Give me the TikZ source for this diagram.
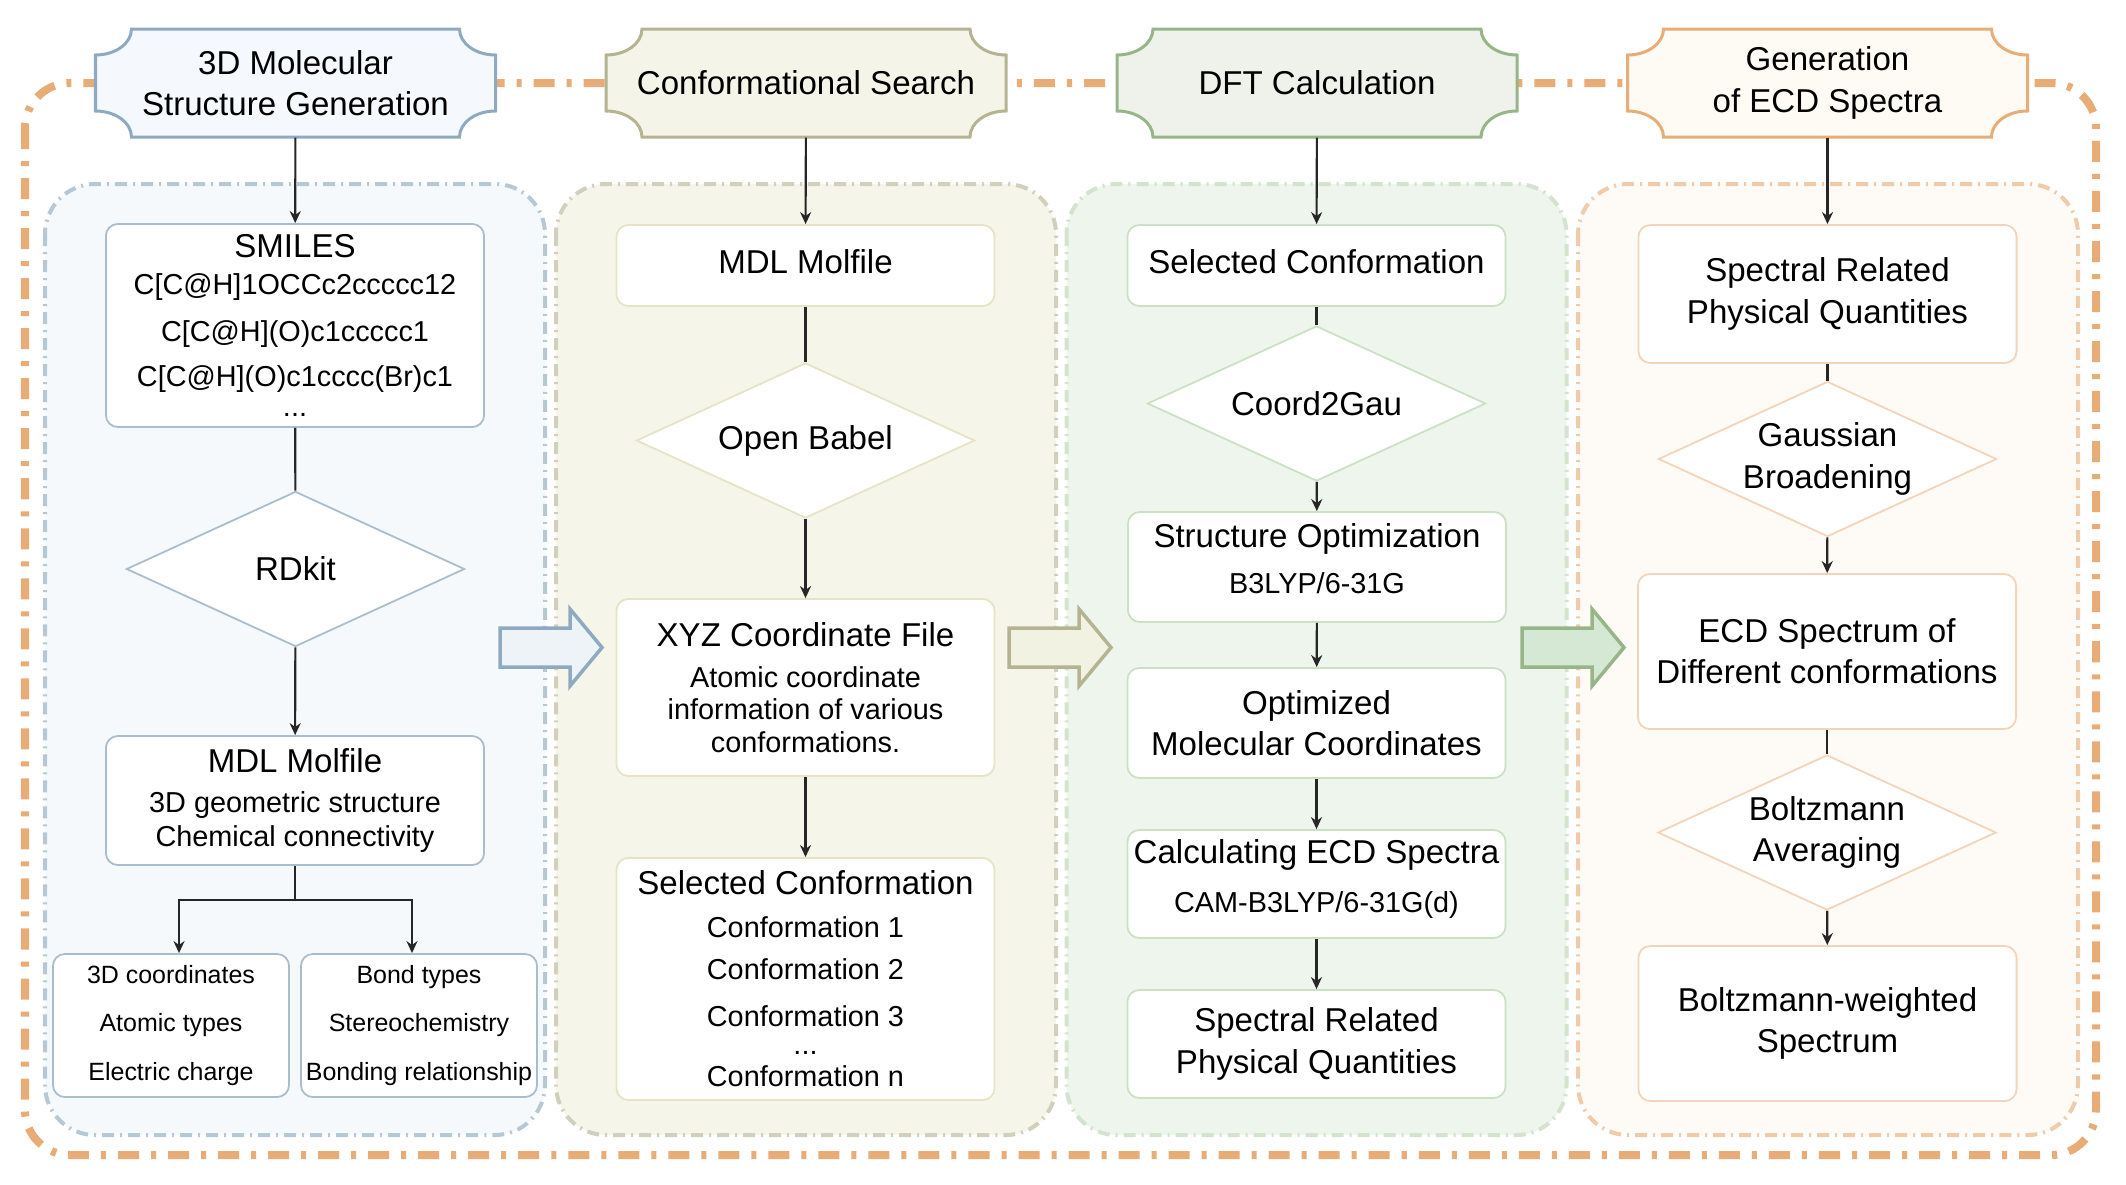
\documentclass[tikz,border=0pt]{standalone}
\usepackage{fontspec}
\setmainfont{Liberation Sans}
\usetikzlibrary{shapes.geometric,arrows.meta}

\definecolor{lineblue}{HTML}{8FAAC0}
\definecolor{headblue}{HTML}{F5F8FC}
\definecolor{fillblue}{HTML}{F5F9FC}
\definecolor{dashblue}{HTML}{B7C8D5}
\definecolor{edgeblue}{HTML}{A9BDCC}
\definecolor{arrowblue}{HTML}{EEF3F8}
\definecolor{lineolive}{HTML}{B5B391}
\definecolor{headolive}{HTML}{F4F4E8}
\definecolor{fillolive}{HTML}{F5F5EA}
\definecolor{dasholive}{HTML}{D1D0BC}
\definecolor{edgeolive}{HTML}{E6E4C4}
\definecolor{arrowolive}{HTML}{F2F2E3}
\definecolor{linegreen}{HTML}{97B589}
\definecolor{headgreen}{HTML}{EEF2EA}
\definecolor{fillgreen}{HTML}{EEF5EC}
\definecolor{dashgreen}{HTML}{D3E3CE}
\definecolor{edgegreen}{HTML}{CBE0C4}
\definecolor{arrowgreen}{HTML}{D5E8D4}
\definecolor{lineorange}{HTML}{E8AD77}
\definecolor{headorange}{HTML}{FEFBF4}
\definecolor{fillorange}{HTML}{FEFBF6}
\definecolor{dashorange}{HTML}{EFCBA9}
\definecolor{edgeorange}{HTML}{F3D4B9}

\newcommand{\headfont}{\fontsize{9.4}{11.7}\selectfont}
\newcommand{\bodyfont}{\fontsize{8.2}{9.3}\selectfont}
\newcommand{\notefont}{\fontsize{7.1}{13.7}\selectfont}

% banner with cut-in corners: name, x, y, colour, text
\newcommand{\stagebanner}[5]{%
  \begin{scope}[shift={(#2,#3)}]
    \draw[line width=0.03cm, draw=line#4, fill=head#4] (-164,-54) -- (164,-54)
      .. controls (164,-39.6) and (180.1,-28) .. (200,-28) -- (200,28)
      .. controls (180.1,28) and (164,39.6) .. (164,54) -- (-164,54)
      .. controls (-164,39.6) and (-180.1,28) .. (-200,28) -- (-200,-28)
      .. controls (-180.1,-28) and (-164,-39.6) .. (-164,-54) -- cycle;
  \end{scope}
  \node[bannertext] (#1) at (#2,#3) {#5};
}

\tikzset{
  bannertext/.style={minimum width=4cm, minimum height=1.08cm, inner sep=0pt, align=center, font=\headfont},
  card/.style={draw=#1, fill=white, rounded corners=0.12cm, line width=0.5pt, minimum width=3.78cm, inner sep=0pt, align=center, font=\headfont},
  decision/.style={diamond, draw=#1, fill=white, line width=0.5pt, minimum width=3.38cm, minimum height=1.55cm, aspect=2.17, inner sep=0pt, align=center, font=\headfont},
  link/.style={line width=0.6pt, draw=black!85},
  flow/.style={link, -{Stealth[length=0.12cm, width=0.11cm]}},
  outerframe/.style={draw=lineorange, line width=0.08cm, rounded corners=0.45cm, dash pattern=on 0.21cm off 0.12cm on 0.05cm off 0.12cm},
  panel/.style={line width=0.04cm, rounded corners=0.5cm, dash pattern=on 0.12cm off 0.06cm on 0.02cm off 0.06cm},
}

\begin{document}
\begin{tikzpicture}[x=0.01cm, y=-0.01cm]
  \useasboundingbox (0,0) rectangle (2126,1184);

  \draw[outerframe] (25,83) rectangle (2096,1155);
  \foreach \cx/\tone in {295/blue,806/olive,1316.5/green,1828/orange}{
    \draw[panel, draw=dash\tone, fill=fill\tone] (\cx-250,184) rectangle (\cx+250,1135);
  }

  \stagebanner{headA}{295.5}{83}{blue}{3D Molecular\\ Structure Generation}
  \stagebanner{headB}{806}{83}{olive}{Conformational Search}
  \stagebanner{headC}{1317}{83}{green}{DFT Calculation}
  \stagebanner{headD}{1827.5}{83}{orange}{Generation\\ of ECD Spectra}

  % hand-over arrows between stages
  \foreach \ax/\tone in {500/blue,1009/olive,1522/green}{
    \draw[line width=0.035cm, draw=line\tone, fill=arrow\tone] (\ax,628) -- (\ax+70,628) -- (\ax+70,609)
      -- (\ax+102,647.5) -- (\ax+70,686) -- (\ax+70,667) -- (\ax,667) -- cycle;
  }

  % structure generation
  \node[card=edgeblue, minimum height=2.03cm, font=\bodyfont] (smiles) at (295,325.5)
    {{\headfont SMILES}\\[1.2pt] C[C@H]1OCCc2ccccc12\\[4.1pt] C[C@H](O)c1ccccc1\\[3.5pt] C[C@H](O)c1cccc(Br)c1\\[-0.8pt] ...};
  \node[decision=edgeblue] (rdkit) at (295.5,569) {RDkit};
  \node[card=edgeblue, minimum height=1.29cm, font=\bodyfont] (molfileA) at (295,800.5)
    {{\headfont MDL Molfile}\\[1.9pt] 3D geometric structure\\[0.4pt] Chemical connectivity};
  \node[card=edgeblue, minimum width=2.36cm, minimum height=1.43cm, font=\notefont] (atoms) at (171,1025.5)
    {3D coordinates\\ Atomic types\\ Electric charge};
  \node[card=edgeblue, minimum width=2.36cm, minimum height=1.43cm, font=\notefont] (bonds) at (419,1025.5)
    {Bond types\\ Stereochemistry\\ Bonding relationship};
  \coordinate (fork) at (295,900);
  \draw[flow] (headA) -- (smiles);
  \draw[link] (smiles) -- (rdkit);
  \draw[flow] (rdkit) -- (molfileA);
  \draw[link] (molfileA) -- (fork);
  \draw[flow] (fork) -| ([xshift=0.08cm]atoms.north);
  \draw[flow] (fork) -| ([xshift=-0.07cm]bonds.north);

  % conformational search
  \node[card=edgeolive, minimum height=0.81cm, text depth=2pt] (molfileB) at (805.5,265.5) {MDL Molfile};
  \node[decision=edgeolive] (babel) at (805.5,440.5) {Open Babel};
  \node[card=edgeolive, minimum height=1.77cm, font=\bodyfont] (xyz) at (805.5,687.5)
    {{\headfont XYZ Coordinate File}\\[2.4pt] Atomic coordinate\\ information of various\\ conformations.};
  \node[card=edgeolive, minimum height=2.42cm, font=\bodyfont] (chosenB) at (805.5,979)
    {{\headfont Selected Conformation}\\[2.9pt] Conformation 1\\[2.7pt] Conformation 2\\[3.8pt] Conformation 3\\[-1.3pt] ...\\ Conformation n};
  \draw[flow] (headB) -- (molfileB);
  \draw[link] (molfileB) -- (babel);
  \draw[flow] (babel) -- (xyz);
  \draw[flow] (xyz) -- (chosenB);

  % DFT calculation
  \node[card=edgegreen, minimum height=0.81cm, text depth=2pt] (chosenC) at (1316.5,265.5) {Selected Conformation};
  \node[decision=edgegreen] (coord) at (1316.5,403.5) {Coord2Gau};
  \node[card=edgegreen, minimum height=1.1cm, text depth=5pt] (optim) at (1317,567)
    {Structure Optimization\\[1.4pt] {\bodyfont B3LYP/6-31G}};
  \node[card=edgegreen, minimum height=1.1cm] (coords) at (1316.5,723) {Optimized\\ Molecular Coordinates};
  \node[card=edgegreen, minimum height=1.08cm, text depth=4.5pt] (ecdcalc) at (1316.5,884)
    {Calculating ECD Spectra\\[2.4pt] {\bodyfont CAM-B3LYP/6-31G(d)}};
  \node[card=edgegreen, minimum height=1.08cm] (quantC) at (1316.5,1044) {Spectral Related\\ Physical Quantities};
  \draw[flow] (headC) -- (chosenC);
  \draw[link] (chosenC) -- (coord);
  \draw[flow] (coord) -- (optim);
  \draw[flow] (optim) -- (coords);
  \draw[flow] (coords) -- (ecdcalc);
  \draw[flow] (ecdcalc) -- (quantC);

  % ECD spectra
  \node[card=edgeorange, minimum height=1.38cm] (quantD) at (1827.5,294) {Spectral Related\\ Physical Quantities};
  \node[decision=edgeorange] (gauss) at (1827.5,459) {Gaussian\\ Broadening};
  \node[card=edgeorange, minimum height=1.55cm] (ecdconf) at (1827,651.5) {ECD Spectrum of\\ Different conformations};
  \node[decision=edgeorange] (boltz) at (1827,832.5) {Boltzmann\\ Averaging};
  \node[card=edgeorange, minimum height=1.55cm] (weighted) at (1827.5,1023.5) {Boltzmann-weighted\\ Spectrum};
  \draw[flow] (headD) -- (quantD);
  \draw[link] (quantD) -- (gauss);
  \draw[flow] (gauss) -- (ecdconf);
  \draw[link] (ecdconf) -- (boltz);
  \draw[flow] (boltz) -- (weighted);
\end{tikzpicture}
\end{document}
